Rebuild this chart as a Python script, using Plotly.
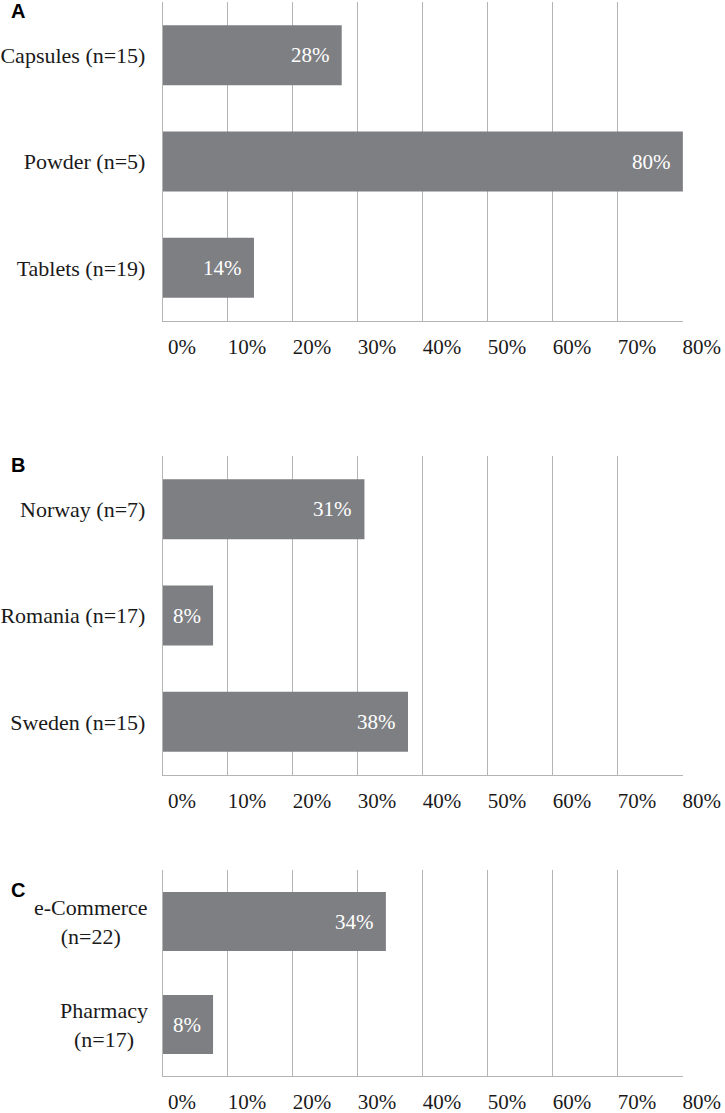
import plotly.graph_objects as go

# Panel A: dosage form
cat_a = ["Capsules (n=15)", "Powder (n=5)", "Tablets (n=19)"]
val_a = [27.5, 80, 14]
lab_a = ["28%", "80%", "14%"]

# Panel B: country
cat_b = ["Norway (n=7)", "Romania (n=17)", "Sweden (n=15)"]
val_b = [31, 7.7, 37.7]
lab_b = ["31%", "8%", "38%"]

# Panel C: purchase channel
cat_c = ["e-Commerce<br>(n=22)", "Pharmacy<br>(n=17)"]
val_c = [34.3, 7.7]
lab_c = ["34%", "8%"]

tick_vals = [0, 10, 20, 30, 40, 50, 60, 70, 80]
tick_text = ["0%", "10%", "20%", "30%", "40%", "50%", "60%", "70%", "80%"]

BAR = "#7e7f83"
GRID = "#b4b4b4"
SERIF = "Liberation Serif"
TXT = "#1a1a1a"

W, H = 725, 1113
xdom = [163 / W, 683 / W]
doms = {
    "": [(H - 321) / H, (H - 2) / H],
    "2": [(H - 775) / H, (H - 456) / H],
    "3": [(H - 1076) / H, (H - 870) / H],
}

fig = go.Figure()
panels = [("", cat_a, val_a, lab_a, 0.565), ("2", cat_b, val_b, lab_b, 0.565), ("3", cat_c, val_c, lab_c, 0.573)]
annotations = []
for sfx, cats, vals, labs, w in panels:
    fig.add_trace(go.Bar(
        x=vals, y=cats, orientation="h", width=w,
        marker=dict(color=BAR, line=dict(width=0)),
        xaxis="x" + sfx, yaxis="y" + sfx, showlegend=False, hoverinfo="skip",
    ))
    for v, c, l in zip(vals, cats, labs):
        annotations.append(dict(
            x=v, y=c, xref="x" + sfx, yref="y" + sfx, text=l, showarrow=False,
            xanchor="right", yanchor="middle", xshift=-10,
            font=dict(family=SERIF, size=21, color="white"),
        ))
    fig.update_layout(**{
        "xaxis" + sfx: dict(
            domain=xdom, anchor="y" + sfx, range=[0, 80.02], automargin=False,
            tickvals=tick_vals, ticktext=tick_text, showgrid=True, gridcolor=GRID, gridwidth=1.3,
            showline=True, linecolor=GRID, linewidth=1.3, zeroline=False, ticks="",
            tickfont=dict(family=SERIF, size=21, color=TXT),
            ticklabelshift=19, ticklabelstandoff=7, fixedrange=True,
        ),
        "yaxis" + sfx: dict(
            domain=doms[sfx], anchor="x" + sfx, autorange="reversed", automargin=False,
            showgrid=False, showline=True, linecolor=GRID, linewidth=1.3, ticks="",
            tickfont=dict(family=SERIF, size=22, color=TXT),
            showticklabels=(sfx != "3"), ticklabelstandoff=12, fixedrange=True,
        ),
    })

# multi-line centered labels for panel C
for c in cat_c:
    annotations.append(dict(
        x=0, y=c, xref="x3 domain", yref="y3", text=c, showarrow=False,
        xanchor="right", yanchor="middle", align="center", xshift=-13,
        font=dict(family=SERIF, size=22, color=TXT),
    ))

# panel letters
for letter, ypx in [("A", 11), ("B", 465), ("C", 890)]:
    annotations.append(dict(
        x=9 / W, y=(H - ypx) / H, xref="paper", yref="paper", text="<b>%s</b>" % letter,
        showarrow=False, xanchor="left", yanchor="middle",
        font=dict(family="Liberation Sans", size=20, color="black"),
    ))

fig.update_layout(
    width=W, height=H, margin=dict(l=0, r=0, t=0, b=0, autoexpand=False),
    paper_bgcolor="white", plot_bgcolor="white",
    annotations=annotations, bargap=0.43,
)

fig.write_html(
    "out.html",
    config={"displayModeBar": False},
    post_script="document.body.style.margin='0';document.body.style.padding='0';document.documentElement.style.overflow='hidden';",
)
